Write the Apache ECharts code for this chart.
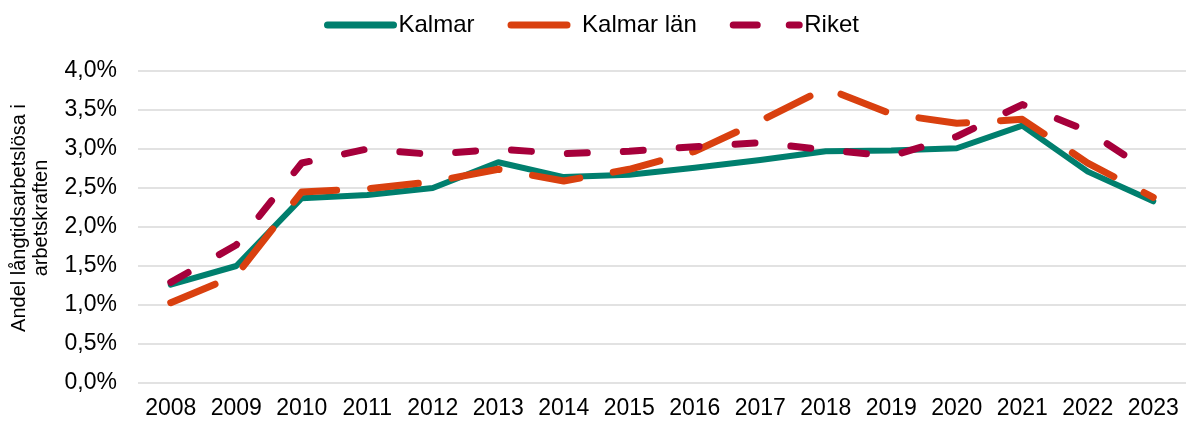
<!DOCTYPE html>
<html>
<head>
<meta charset="utf-8">
<script src="https://cdn.jsdelivr.net/npm/echarts@6/dist/echarts.min.js"></script>
<style>
  html, body { margin: 0; padding: 0; background: #fff; }
  #main { width: 1186px; height: 421px; }
</style>
</head>
<body>
<div id="main"></div>
<script>
// år
const years = ['2008', '2009', '2010', '2011', '2012', '2013', '2014', '2015',
  '2016', '2017', '2018', '2019', '2020', '2021', '2022', '2023']
// andel långtidsarbetslösa (%)
const kalmar = [1.26, 1.50, 2.37, 2.41, 2.50, 2.83, 2.64, 2.67, 2.76, 2.86, 2.97, 2.98, 3.01, 3.30, 2.71, 2.33]
const kalmarLan = [1.03, 1.38, 2.45, 2.49, 2.58, 2.74, 2.59, 2.74, 2.97, 3.36, 3.78, 3.45, 3.33, 3.38, 2.82, 2.38]
const riket = [1.29, 1.77, 2.82, 3.00, 2.93, 3.00, 2.94, 2.97, 3.03, 3.08, 2.99, 2.91, 3.16, 3.57, 3.23, 2.68]

const font = 'Liberation Sans, Arial, sans-serif'
const green = '#007f6e'
const orange = '#d9400f'
const crimson = '#a6003b'

const chart = echarts.init(document.getElementById('main'))
chart.setOption({
  animation: false,
  textStyle: { fontFamily: font },
  legend: {
    top: 8,
    left: 319,
    itemWidth: 66,
    itemHeight: 14,
    itemGap: 33,
    itemStyle: { opacity: 0 },
    textStyle: { fontSize: 24, color: '#000', fontFamily: font },
    data: [
      { name: 'Kalmar', lineStyle: { width: 7, cap: 'round' } },
      { name: 'Kalmar län', lineStyle: { width: 7, type: [56, 30], cap: 'round' } },
      { name: 'Riket', lineStyle: { width: 7, type: [24, 32], cap: 'round' } }
    ]
  },
  grid: { left: 138, right: 0, top: 71, bottom: 38 },
  xAxis: {
    type: 'category',
    data: years,
    boundaryGap: true,
    axisLine: { show: false },
    axisTick: { show: false },
    axisLabel: { interval: 0, fontSize: 23, color: '#000', margin: 14, fontFamily: font }
  },
  yAxis: {
    type: 'value',
    min: 0,
    max: 4,
    interval: 0.5,
    name: 'Andel långtidsarbetslösa i\narbetskraften',
    nameLocation: 'middle',
    nameRotate: 90,
    nameGap: 86,
    nameTextStyle: { fontSize: 20, color: '#000', lineHeight: 22, fontFamily: font, padding: [0, 0, 0, 18] },
    axisLabel: {
      fontSize: 23,
      color: '#000',
      margin: 21,
      fontFamily: font,
      formatter: v => v.toFixed(1).replace('.', ',') + '%'
    },
    splitLine: { lineStyle: { color: '#d9d9d9', width: 1.5 } }
  },
  series: [
    {
      name: 'Kalmar',
      type: 'line',
      data: kalmar,
      symbol: 'none',
      color: green,
      lineStyle: { width: 6, color: green, cap: 'round', join: 'round' }
    },
    {
      name: 'Kalmar län',
      type: 'line',
      data: kalmarLan,
      symbol: 'none',
      color: orange,
      lineStyle: { width: 7, color: orange, type: [48, 34], cap: 'round', join: 'round' }
    },
    {
      name: 'Riket',
      type: 'line',
      data: riket,
      symbol: 'none',
      color: crimson,
      lineStyle: { width: 7, color: crimson, type: [20, 36], cap: 'round', join: 'round' }
    }
  ]
})
</script>
</body>
</html>
